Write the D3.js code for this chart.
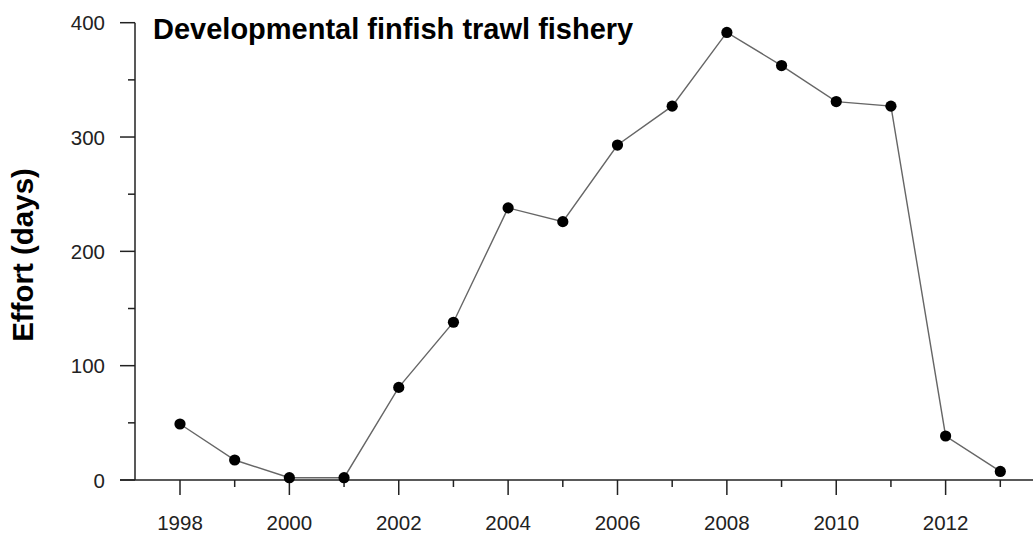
<!DOCTYPE html>
<html>
<head>
<meta charset="utf-8">
<script src="https://cdn.jsdelivr.net/npm/d3@7/dist/d3.min.js"></script>
<style>
  html, body { margin: 0; padding: 0; background: #fff; }
  svg { display: block; }
  text { font-family: "Liberation Sans", Arial, Helvetica, sans-serif; }
</style>
</head>
<body>
<svg id="chart" width="1035" height="534"></svg>
<script>
// Annual effort of the developmental finfish trawl fishery
const years = [1998, 1999, 2000, 2001, 2002, 2003, 2004, 2005, 2006, 2007, 2008, 2009, 2010, 2011, 2012, 2013];
const effortDays = [49, 17.5, 2, 2, 81, 138, 238, 226, 293, 327, 391.5, 362.5, 331, 327, 38.5, 7.5];
const yTickValues = [0, 100, 200, 300, 400];
const yMinorTicks = [50, 150, 250, 350];
const xLabelYears = [1998, 2000, 2002, 2004, 2006, 2008, 2010, 2012];

const titleText = "Developmental finfish trawl fishery";
const yTitleText = "Effort (days)";

const svg = d3.select("#chart");

const x = d3.scaleLinear().domain([1998, 2013]).range([180, 1000.3]);
const y = d3.scaleLinear().domain([0, 400]).range([480, 22.7]);

const axisColor = "#222";
const yAxisX = 135;

// x axis: baseline, yearly ticks (long on labelled years), labels
const gx = svg.append("g");
gx.append("line")
  .attr("x1", 120).attr("x2", 1033)
  .attr("y1", y(0)).attr("y2", y(0))
  .attr("stroke", axisColor).attr("stroke-width", 1.5);
gx.selectAll("line.xt").data(years).join("line")
  .attr("class", "xt")
  .attr("x1", d => x(d)).attr("x2", d => x(d))
  .attr("y1", y(0))
  .attr("y2", d => y(0) + (xLabelYears.includes(d) ? 15 : 7))
  .attr("stroke", axisColor).attr("stroke-width", 1.5);
gx.selectAll("text").data(xLabelYears).join("text")
  .attr("x", d => x(d)).attr("y", 530)
  .attr("text-anchor", "middle")
  .attr("font-size", 20.5)
  .attr("fill", "#222")
  .text(d => d);

// y axis: spine, major and minor ticks, labels
const gy = svg.append("g");
gy.append("line")
  .attr("x1", yAxisX).attr("x2", yAxisX)
  .attr("y1", y(400)).attr("y2", y(0))
  .attr("stroke", axisColor).attr("stroke-width", 1.5);
gy.selectAll("line.ymaj").data(yTickValues).join("line")
  .attr("class", "ymaj")
  .attr("x1", yAxisX - 15).attr("x2", yAxisX)
  .attr("y1", d => y(d)).attr("y2", d => y(d))
  .attr("stroke", axisColor).attr("stroke-width", 1.5);
gy.selectAll("line.ymin").data(yMinorTicks).join("line")
  .attr("class", "ymin")
  .attr("x1", yAxisX - 7).attr("x2", yAxisX)
  .attr("y1", d => y(d)).attr("y2", d => y(d))
  .attr("stroke", axisColor).attr("stroke-width", 1.5);
gy.selectAll("text").data(yTickValues).join("text")
  .attr("x", 105).attr("y", d => y(d) + 7.5)
  .attr("text-anchor", "end")
  .attr("font-size", 20.5)
  .attr("fill", "#222")
  .text(d => d);

// y axis title
svg.append("text")
  .attr("transform", "translate(33,255) rotate(-90)")
  .attr("text-anchor", "middle")
  .attr("font-size", 29.5)
  .attr("font-weight", "bold")
  .attr("fill", "#000")
  .text(yTitleText);

// chart title
svg.append("text")
  .attr("x", 153).attr("y", 39)
  .attr("font-size", 29)
  .attr("font-weight", "bold")
  .attr("fill", "#000")
  .text(titleText);

// series line and markers
const pts = years.map((yr, i) => ({ year: yr, value: effortDays[i] }));
const line = d3.line().x(d => x(d.year)).y(d => y(d.value));
svg.append("path")
  .datum(pts)
  .attr("d", line)
  .attr("fill", "none")
  .attr("stroke", "#666")
  .attr("stroke-width", 1.4);
svg.selectAll("circle").data(pts).join("circle")
  .attr("cx", d => x(d.year)).attr("cy", d => y(d.value))
  .attr("r", 5.6)
  .attr("fill", "#000");
</script>
</body>
</html>
